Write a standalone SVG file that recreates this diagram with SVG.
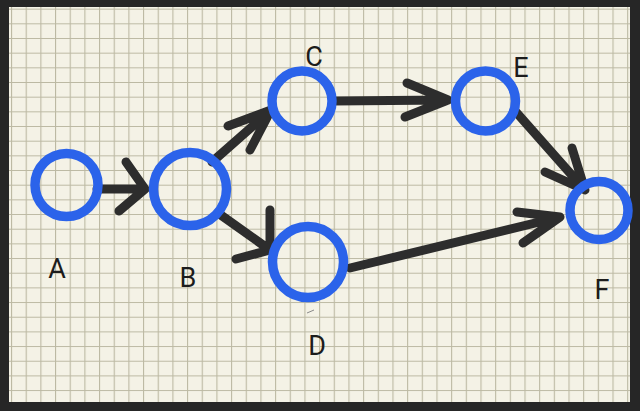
<svg xmlns="http://www.w3.org/2000/svg" width="640" height="411" viewBox="0 0 640 411">
  <defs>
    <pattern id="grid" patternUnits="userSpaceOnUse" x="11" y="8.66" width="14.67" height="14.67">
      <rect width="14.67" height="14.67" fill="#f4f2e6"/>
      <path d="M0.5 0 V14.67 M0 0.5 H14.67" stroke="#bcb9a3" stroke-width="1.2" fill="none"/>
    </pattern>
    <style>
      .node { fill: none; stroke: #2b63ea; stroke-width: 9.5; }
      .edge { fill: none; stroke: #2d2d2d; stroke-width: 9; stroke-linecap: round; stroke-linejoin: round; }
      .label { font-family: Roboto, "Liberation Sans", sans-serif; font-size: 27px; fill: #1c1c1c; text-anchor: middle; }
    </style>
  </defs>
  <rect x="0" y="0" width="640" height="411" fill="#262626"/>
  <rect x="9" y="7" width="621" height="395" fill="url(#grid)"/>

  <g id="connectors">
    <path class="edge" d="M97 189 L145 189 M126 162 L145 189 L119 211"/>
    <path class="edge" d="M212 162 L271 110 M228 126 L271 110 L250 150"/>
    <path class="edge" d="M218 213 L270 250 M270 210 L270 250 L236 259"/>
    <path class="edge" d="M333 101 L448 100 M407 83 L448 100 L405 117"/>
    <path class="edge" d="M516 112 L585 190 M572 148 L585 190 L545 172"/>
    <path class="edge" d="M350 268 L560 217 M517 212 L560 217 L523 243"/>
  </g>

  <g id="node-A"><circle class="node" cx="66.5" cy="185" r="31.5"/><text class="label" x="57" y="278">A</text></g>
  <g id="node-B"><circle class="node" cx="190" cy="189" r="36.5"/><text class="label" x="188" y="287">B</text></g>
  <g id="node-C"><circle class="node" cx="302" cy="101" r="30"/><text class="label" x="314" y="66">C</text></g>
  <g id="node-D"><circle class="node" cx="308" cy="262" r="35.5"/><text class="label" x="317" y="355">D</text></g>
  <g id="node-E"><circle class="node" cx="485.5" cy="101" r="30"/><text class="label" x="521" y="77">E</text></g>
  <g id="node-F"><circle class="node" cx="599" cy="210.5" r="29"/><text class="label" x="602" y="299">F</text></g>
  <path d="M307 313 L314 310" stroke="#8a8a8a" stroke-width="1" fill="none"/>
</svg>
